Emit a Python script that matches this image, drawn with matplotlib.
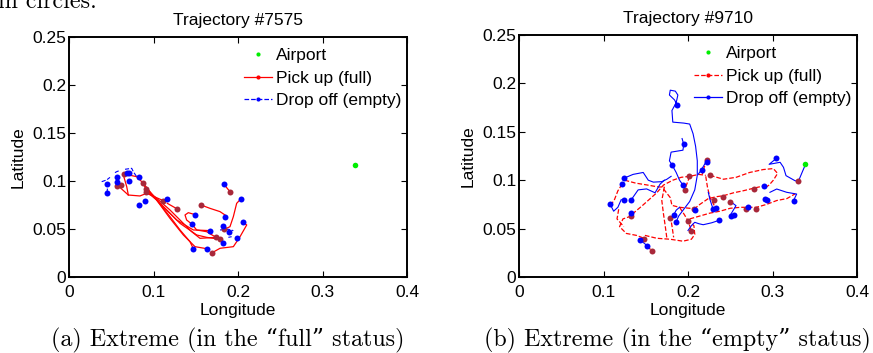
import matplotlib.pyplot as plt
from matplotlib.lines import Line2D

# ---- data (longitude, latitude) ----
airport = (0.339, 0.117)

# Trajectory #7575 (extreme in the "full" status)
a_full = [
    [(0.0584, 0.0948), (0.0702, 0.0854), (0.0840, 0.0844), (0.0919, 0.0872), (0.1116, 0.0795)],
    [(0.0643, 0.1063), (0.0683, 0.0941), (0.0702, 0.0854)],
    [(0.0651, 0.1073), (0.0801, 0.1045), (0.0872, 0.0983), (0.0919, 0.0906), (0.1037, 0.0820),
     (0.1195, 0.0698), (0.1353, 0.0559), (0.1452, 0.0472), (0.1550, 0.0403), (0.1740, 0.0413)],
    [(0.0880, 0.0976), (0.1037, 0.0802), (0.1195, 0.0629), (0.1314, 0.0490), (0.1432, 0.0368),
     (0.1471, 0.0295)],
    [(0.0911, 0.0913), (0.1077, 0.0767), (0.1274, 0.0594), (0.1471, 0.0490), (0.1673, 0.0483)],
    [(0.0899, 0.0941), (0.1116, 0.0733), (0.1314, 0.0559), (0.1511, 0.0438), (0.1629, 0.0413),
     (0.1787, 0.0393)],
    [(0.0919, 0.0889), (0.1037, 0.0802), (0.1195, 0.0611), (0.1353, 0.0438), (0.1491, 0.0316),
     (0.1629, 0.0295)],
    [(0.1164, 0.0767), (0.1282, 0.0708)],
    [(0.1562, 0.0750), (0.1669, 0.0715), (0.1787, 0.0681), (0.1846, 0.0646)],
    [(0.1905, 0.0889), (0.1834, 0.0965)],
    [(0.1838, 0.0497), (0.1905, 0.0524), (0.1945, 0.0629), (0.1984, 0.0767), (0.2036, 0.0816)],
    [(0.1696, 0.0254), (0.1787, 0.0299), (0.1945, 0.0316), (0.2024, 0.0420), (0.2103, 0.0542),
     (0.2059, 0.0570)],
    [(0.1452, 0.0552), (0.1392, 0.0594), (0.1373, 0.0646), (0.1412, 0.0670), (0.1495, 0.0649)],
    [(0.1740, 0.0413), (0.1629, 0.0472), (0.1511, 0.0490), (0.1452, 0.0552)],
    [(0.1787, 0.0393), (0.1818, 0.0358)],
]
a_empty = [
    [(0.0387, 0.0993), (0.0446, 0.1011), (0.0485, 0.1038)],
    [(0.0544, 0.1087), (0.0564, 0.1097), (0.0596, 0.1108)],
    [(0.0663, 0.1122), (0.0742, 0.1132), (0.0761, 0.1097), (0.0801, 0.1045)],
    [(0.0446, 0.0879), (0.0454, 0.0906), (0.0454, 0.0969)],
    [(0.1787, 0.0490), (0.1886, 0.0497), (0.1945, 0.0483)],
    [(0.1886, 0.0413), (0.1925, 0.0420)],
    [(0.0572, 0.0993), (0.0611, 0.0955)],
]
a_pick = [(0.0651, 0.1073), (0.0564, 0.0948), (0.0611, 0.0955), (0.0880, 0.0976), (0.0911, 0.0913),
          (0.1116, 0.0795), (0.1282, 0.0708), (0.1562, 0.0750), (0.1696, 0.0254), (0.1740, 0.0413),
          (0.1787, 0.0393), (0.1838, 0.0497), (0.1905, 0.0889), (0.0911, 0.0889)]
a_drop = [(0.0454, 0.0969), (0.0446, 0.0879), (0.0572, 0.1045), (0.0572, 0.0993), (0.0714, 0.1087),
          (0.0683, 0.1080), (0.0714, 0.1000), (0.0824, 0.1038), (0.0832, 0.0750), (0.0899, 0.0795),
          (0.1156, 0.0809), (0.1452, 0.0552), (0.1495, 0.0649), (0.1471, 0.0295), (0.1629, 0.0295),
          (0.1673, 0.0483), (0.1818, 0.0531), (0.1846, 0.0629), (0.1834, 0.0965), (0.1818, 0.0358),
          (0.1897, 0.0472), (0.1992, 0.0406), (0.2036, 0.0816), (0.2059, 0.0570)]

# Trajectory #9710 (extreme in the "empty" status)
b_full = [
    [(0.133, 0.063), (0.123, 0.060), (0.119, 0.052), (0.127, 0.045), (0.139, 0.043), (0.148, 0.040)],
    [(0.149, 0.043), (0.163, 0.040), (0.179, 0.039), (0.194, 0.037), (0.204, 0.039), (0.208, 0.044),
     (0.207, 0.053), (0.201, 0.058)],
    [(0.134, 0.065), (0.145, 0.073), (0.154, 0.080), (0.163, 0.087), (0.171, 0.095), (0.182, 0.100),
     (0.192, 0.103), (0.202, 0.104), (0.213, 0.106), (0.221, 0.105)],
    [(0.226, 0.105), (0.242, 0.101), (0.257, 0.103), (0.273, 0.108), (0.289, 0.111), (0.301, 0.112),
     (0.306, 0.107), (0.301, 0.100), (0.296, 0.095), (0.291, 0.092)],
    [(0.171, 0.091), (0.179, 0.082), (0.181, 0.074), (0.190, 0.072), (0.202, 0.071), (0.207, 0.070)],
    [(0.207, 0.070), (0.214, 0.075), (0.224, 0.081), (0.234, 0.083), (0.242, 0.084), (0.254, 0.087),
     (0.265, 0.089), (0.279, 0.092), (0.289, 0.094)],
    [(0.202, 0.060), (0.214, 0.063), (0.226, 0.066), (0.238, 0.068), (0.250, 0.071), (0.262, 0.072),
     (0.271, 0.072), (0.281, 0.072), (0.293, 0.075), (0.305, 0.079), (0.317, 0.081), (0.327, 0.086)],
    [(0.179, 0.063), (0.181, 0.053), (0.183, 0.041)],
    [(0.172, 0.093), (0.169, 0.079), (0.171, 0.065), (0.173, 0.053), (0.175, 0.040)],
    [(0.221, 0.104), (0.223, 0.093), (0.226, 0.082), (0.231, 0.074)],
    [(0.223, 0.121), (0.219, 0.113), (0.217, 0.106)],
    [(0.122, 0.096), (0.117, 0.089), (0.113, 0.080), (0.110, 0.076)],
    [(0.118, 0.070), (0.116, 0.060), (0.124, 0.052)],
    [(0.125, 0.100), (0.138, 0.097), (0.152, 0.095), (0.165, 0.093), (0.172, 0.093)],
    [(0.202, 0.104), (0.199, 0.097), (0.196, 0.090)],
    [(0.190, 0.072), (0.196, 0.064), (0.200, 0.058), (0.204, 0.048)],
    [(0.152, 0.032), (0.157, 0.027)],
]
b_empty = [
    [(0.1874, 0.1776), (0.184, 0.183), (0.178, 0.188), (0.179, 0.193), (0.185, 0.192), (0.188, 0.188),
     (0.186, 0.180), (0.181, 0.172), (0.182, 0.160), (0.195, 0.159), (0.202, 0.158), (0.206, 0.148),
     (0.209, 0.135), (0.211, 0.120), (0.211, 0.105), (0.208, 0.090), (0.202, 0.078), (0.195, 0.070),
     (0.189, 0.063), (0.186, 0.057)],
    [(0.193, 0.143), (0.195, 0.137), (0.194, 0.131), (0.180, 0.129), (0.178, 0.120), (0.181, 0.116)],
    [(0.181, 0.116), (0.186, 0.108), (0.190, 0.100), (0.194, 0.095)],
    [(0.124, 0.102), (0.135, 0.106), (0.147, 0.108), (0.153, 0.100), (0.159, 0.098), (0.169, 0.0985),
     (0.175, 0.101), (0.180, 0.104)],
    [(0.133, 0.080), (0.141, 0.090), (0.151, 0.091), (0.161, 0.087), (0.167, 0.096), (0.172, 0.100)],
    [(0.108, 0.075), (0.112, 0.068), (0.117, 0.072), (0.121, 0.080)],
    [(0.183, 0.064), (0.186, 0.069), (0.190, 0.072)],
    [(0.200, 0.048), (0.204, 0.053), (0.208, 0.0565), (0.213, 0.055), (0.218, 0.054), (0.228, 0.056),
     (0.237, 0.0586)],
    [(0.224, 0.0875), (0.226, 0.080), (0.229, 0.072)],
    [(0.2497, 0.0634), (0.2568, 0.0737), (0.2505, 0.0778)],
    [(0.3045, 0.1225), (0.296, 0.1164), (0.309, 0.1185), (0.313, 0.1133), (0.316, 0.1047),
     (0.3266, 0.0995), (0.3306, 0.0988)],
    [(0.3306, 0.0988), (0.335, 0.108), (0.3396, 0.1175)],
    [(0.297, 0.0875), (0.305, 0.0909), (0.3168, 0.0875), (0.3286, 0.0857), (0.3254, 0.0799)],
    [(0.2225, 0.1207), (0.218, 0.114), (0.216, 0.111), (0.212, 0.106)],
    [(0.143, 0.038), (0.148, 0.035), (0.152, 0.032)],
]
b_pick = [(0.2225, 0.1207), (0.201, 0.1039), (0.196, 0.090), (0.2257, 0.105), (0.207, 0.070),
          (0.2308, 0.0794), (0.2414, 0.0831), (0.2493, 0.0777), (0.278, 0.0908), (0.280, 0.0707),
          (0.269, 0.0707), (0.3306, 0.0987), (0.179, 0.0614), (0.200, 0.058), (0.204, 0.0476),
          (0.133, 0.063), (0.148, 0.0397), (0.157, 0.0269)]
b_drop = [(0.1874, 0.1776), (0.195, 0.137), (0.181, 0.116), (0.216, 0.111), (0.2225, 0.119),
          (0.194, 0.095), (0.124, 0.102), (0.122, 0.096), (0.124, 0.080), (0.133, 0.080),
          (0.108, 0.075), (0.133, 0.0656), (0.143, 0.038), (0.152, 0.032), (0.183, 0.0638),
          (0.186, 0.057), (0.208, 0.069), (0.229, 0.0707), (0.2335, 0.0714), (0.237, 0.0586),
          (0.251, 0.063), (0.255, 0.0638), (0.271, 0.0718), (0.290, 0.094), (0.291, 0.081),
          (0.2935, 0.080), (0.3045, 0.1225), (0.325, 0.079)]

xticks = [0, 0.1, 0.2, 0.3, 0.4]
xlabels = ['0', '0.1', '0.2', '0.3', '0.4']
yticks = [0, 0.05, 0.1, 0.15, 0.2, 0.25]
ylabels = ['0', '0.05', '0.1', '0.15', '0.2', '0.25']

RED = '#ff0000'
BLUE = '#0000ff'
DARKRED = '#a8283a'
GREEN = '#00ee00'
FS = 12.5
SANS = ['Liberation Sans', 'DejaVu Sans']
SERIF = ['cmr10', 'DejaVu Serif']

W, H = 873, 353
fig = plt.figure(figsize=(W / 100, H / 100), dpi=100)


def panel(box, title, full, empty, picks, drops, full_ls, empty_ls):
    l, t, r, b = box
    ax = fig.add_axes([l / W, 1 - b / H, (r - l) / W, (b - t) / H])
    for path in full:
        xs, ys = zip(*path)
        ax.plot(xs, ys, color=RED, lw=0.9, ls=full_ls)
    for path in empty:
        xs, ys = zip(*path)
        ax.plot(xs, ys, color=BLUE, lw=0.8, ls=empty_ls)
    xs, ys = zip(*picks)
    ax.plot(xs, ys, 'o', color=DARKRED, ms=4.3, mew=0)
    xs, ys = zip(*drops)
    ax.plot(xs, ys, 'o', color=BLUE, ms=4.3, mew=0)
    ax.plot([airport[0]], [airport[1]], 'o', color=GREEN, ms=4, mew=0)

    ax.set_xlim(0, 0.4)
    ax.set_ylim(0, 0.25)
    ax.set_xticks(xticks)
    ax.set_xticklabels(xlabels, family=SANS, fontsize=FS)
    ax.set_yticks(yticks)
    ax.set_yticklabels(ylabels, family=SANS, fontsize=FS)
    ax.tick_params(direction='in', length=4, width=0.8, top=True, right=True)
    ax.tick_params(axis='x', pad=6)
    ax.tick_params(axis='y', pad=2)
    for s in ax.spines.values():
        s.set_linewidth(1.4)
    ax.set_xlabel('Longitude', family=SANS, fontsize=FS, labelpad=2)
    ax.set_ylabel('Latitude', family=SANS, fontsize=FS, labelpad=5)
    ax.set_title(title, family=SANS, fontsize=FS, pad=9)

    handles = [
        Line2D([], [], ls='none', marker='o', color=GREEN, ms=3, mew=0),
        Line2D([], [], ls=full_ls, lw=0.9, marker='o', color=RED, ms=3, mew=0),
        Line2D([], [], ls=empty_ls, lw=0.9, marker='o', color=BLUE, ms=3, mew=0),
    ]
    ax.legend(handles, ['Airport', 'Pick up (full)', 'Drop off (empty)'],
              loc='upper right', bbox_to_anchor=(1.0, 0.975), frameon=False,
              handlelength=1.6, handletextpad=0.25, labelspacing=0.42,
              borderaxespad=0.1, borderpad=0.2, prop={'family': SANS, 'size': FS})
    return ax


panel((69, 37, 407, 277), 'Trajectory #7575', a_full, a_empty, a_pick, a_drop, '-', '--')
panel((519, 35, 857, 277), 'Trajectory #9710', b_full, b_empty, b_pick, b_drop, '--', '-')

fig.text(228 / W, 1 - 340 / H, '(a) Extreme (in the \u201cfull\u201d status)',
         family=SERIF, fontsize=17.3, ha='center', va='center')
fig.text(677 / W, 1 - 340 / H, '(b) Extreme (in the \u201cempty\u201d status)',
         family=SERIF, fontsize=17.3, ha='center', va='center')
# tail of the paper's running text, cut by the top edge as in the source page
fig.text(97 / W, 1 - 8 / H, 'in circles.', family=SERIF, fontsize=17.3, ha='right', va='baseline')

fig.savefig('out.png', dpi=100)
